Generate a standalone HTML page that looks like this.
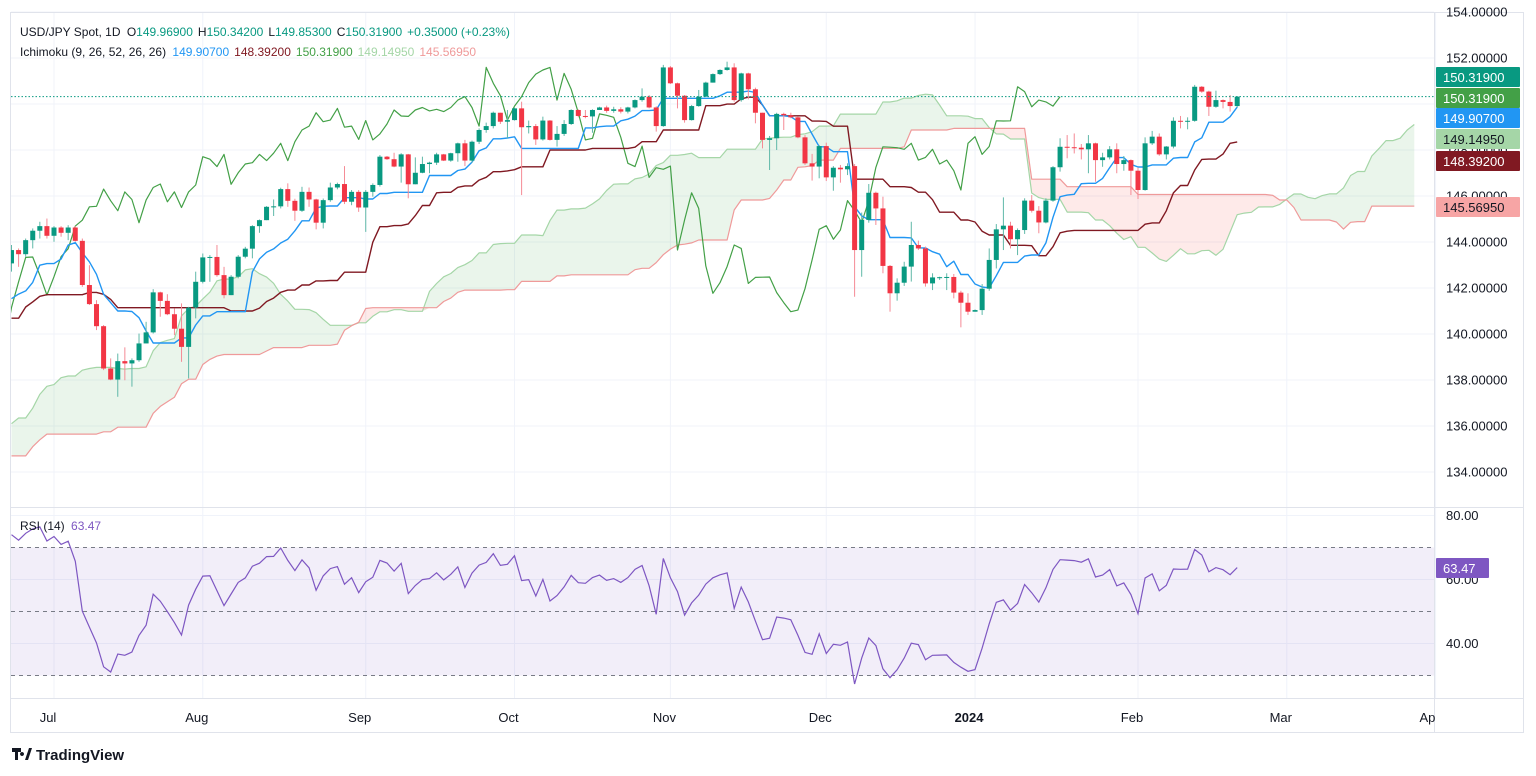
<!DOCTYPE html>
<html><head><meta charset="utf-8"><style>
html,body{margin:0;padding:0;background:#fff;}
svg{display:block;font-family:"Liberation Sans",sans-serif;}
</style></head><body>
<svg id="chart" width="1536" height="776" viewBox="0 0 1536 776" xmlns="http://www.w3.org/2000/svg">
<defs>
<clipPath id="mainClip"><rect x="11" y="13" width="1423" height="494"/></clipPath>
<clipPath id="rsiClip"><rect x="11" y="508" width="1423" height="190"/></clipPath>
</defs>
<rect x="0" y="0" width="1536" height="776" fill="#fff"/>
<g id="grid"></g>
<g id="cloud" clip-path="url(#mainClip)"></g>
<g id="lines" clip-path="url(#mainClip)"></g>
<g id="candles" clip-path="url(#mainClip)"></g>
<g id="rsi" clip-path="url(#rsiClip)"></g>
<g id="frame">
<line x1="10.5" y1="12" x2="10.5" y2="733" stroke="#e0e3eb"/>
<line x1="10" y1="12.5" x2="1524" y2="12.5" stroke="#e0e3eb"/>
<line x1="1523.5" y1="12" x2="1523.5" y2="733" stroke="#e0e3eb"/>
<line x1="10" y1="732.5" x2="1524" y2="732.5" stroke="#e0e3eb"/>
<line x1="1434.5" y1="12" x2="1434.5" y2="733" stroke="#e0e3eb"/>
<line x1="10" y1="507.5" x2="1524" y2="507.5" stroke="#e0e3eb"/>
<line x1="10" y1="698.5" x2="1524" y2="698.5" stroke="#e0e3eb"/>
</g>
<g id="axes"></g>
<g id="header">
<text x="20" y="36" font-size="12" fill="#131722">USD/JPY Spot, 1D <tspan dx="3">O</tspan><tspan fill="#089981">149.96900</tspan><tspan dx="5">H</tspan><tspan fill="#089981">150.34200</tspan><tspan dx="5">L</tspan><tspan fill="#089981">149.85300</tspan><tspan dx="5">C</tspan><tspan fill="#089981">150.31900</tspan><tspan dx="5" fill="#089981">+0.35000 (+0.23%)</tspan></text>
<text x="20" y="56" font-size="12" fill="#131722">Ichimoku (9, 26, 52, 26, 26) <tspan dx="3" fill="#2196F3">149.90700</tspan><tspan dx="5" fill="#801922">148.39200</tspan><tspan dx="5" fill="#43A047">150.31900</tspan><tspan dx="5" fill="#A5D6A7">149.14950</tspan><tspan dx="5" fill="#EF9A9A">145.56950</tspan></text>
<text x="20" y="530" font-size="12" fill="#131722">RSI (14) <tspan dx="3" fill="#7E57C2">63.47</tspan></text>
</g>
<g id="logo">
<path d="M12 748h9v4h-3v8h-3v-8h-3z M22 752a2 2 0 1 0 0.01 0z M25 760l4-12h3l-4 12z" fill="#131722"/>
<text x="36" y="760" font-size="15" font-weight="bold" fill="#131722">TradingView</text>
</g>
</svg>
<script>
// ---- data: bar index -6 (Jun 23 2023) .. 167 (Feb 21 2024)
const preCloses=[136.2,136.7,135.9,135.9,137.2,137.3,136.1,135.0,133.2,134.2,
133.4,133.7,131.8,131.3,132.5,131.4,130.8,130.7,131.5,130.9,
132.9,132.7,132.8,132.4,131.7,131.3,131.8,132.2,133.6,133.7,
133.1,132.6,133.8,134.5,134.1,134.7,134.2,134.1,134.3,133.7,
133.6,133.9,136.3,137.5,136.5,134.7,134.2,134.8,135.1,135.2,
134.4,134.5,135.7,136.1,136.4,137.6,138.7,137.9,138.6,138.6,
139.5,140.1,140.6,140.4,139.8,139.3,138.8,139.9,139.6,139.6,
140.1,139.0,139.4,139.6,140.2,140.0,140.3,141.8,141.9,141.5,
141.9,143.07];
const closes=[143.65,143.47,144.08,144.49,144.69,144.27,
144.63,144.40,144.63,144.05,142.13,141.30,140.34,138.50,138.02,138.82,
138.72,138.86,139.59,140.07,141.81,141.44,140.86,140.23,139.44,141.15,
142.27,143.33,143.35,142.56,141.69,142.49,143.36,143.71,144.69,144.95,
145.53,145.55,146.30,145.79,145.36,146.18,145.85,144.84,145.82,146.37,
146.52,145.75,146.18,145.50,146.18,146.48,147.71,147.60,147.28,147.81,
146.51,147.01,147.39,147.45,147.81,147.54,147.86,148.29,147.54,148.36,
148.87,149.04,149.62,149.23,149.30,149.81,148.99,149.04,148.46,149.28,
148.44,148.70,149.13,149.74,149.48,149.46,149.74,149.85,149.70,149.77,
149.67,149.85,150.17,150.32,149.85,149.04,151.59,150.90,150.36,149.30,
149.91,150.32,150.93,151.30,151.48,151.59,150.17,151.33,150.64,149.62,
148.44,148.51,149.57,149.51,149.42,148.55,147.42,147.28,148.17,146.81,
147.23,147.16,147.30,143.65,144.96,146.14,145.46,142.96,141.77,142.23,
142.93,143.87,143.72,142.20,142.46,142.47,142.48,141.80,141.36,140.97,
141.04,141.97,143.22,144.55,144.71,144.12,144.52,145.80,145.36,144.85,
145.80,147.25,148.14,148.12,148.10,148.03,148.29,147.56,147.68,148.03,
147.39,147.56,147.10,146.26,148.29,148.58,147.81,148.15,149.27,149.26,
149.27,150.75,150.54,149.88,150.17,150.09,149.91,150.32];
const highs=[143.87,143.72,144.15,144.59,144.88,145.02,
144.69,144.69,144.73,144.69,144.15,142.99,141.47,140.39,138.94,139.15,
139.42,138.94,140.02,140.53,141.95,141.84,141.73,141.11,141.33,141.18,
142.71,143.50,143.43,143.87,142.92,142.56,143.43,143.79,144.73,144.98,
145.56,145.85,146.36,146.55,145.88,146.40,146.37,145.88,145.89,146.58,
146.58,147.30,146.26,146.26,146.26,146.55,147.78,147.74,147.88,147.86,
147.83,147.68,147.71,147.49,147.88,147.83,147.88,148.32,148.44,148.41,
148.94,149.19,149.67,149.62,149.74,149.85,150.10,149.28,149.13,149.45,
149.30,149.04,149.30,149.77,149.77,149.74,149.77,149.88,149.93,149.88,
149.86,149.88,150.20,150.68,150.39,149.90,151.70,151.65,150.93,150.39,
149.96,150.61,150.97,151.33,151.51,151.84,151.77,151.36,151.36,150.71,
149.62,148.61,149.62,149.62,149.62,149.45,148.65,147.83,148.22,148.32,
147.30,147.35,147.42,147.39,145.28,146.52,146.19,145.97,143.00,142.42,
143.14,144.88,144.06,143.80,142.64,142.49,142.64,142.61,141.88,141.77,
141.07,142.17,143.72,144.78,145.94,144.88,144.59,145.90,146.04,145.56,
145.90,147.30,148.51,148.65,148.72,148.26,148.65,148.32,147.88,148.17,
148.29,147.74,147.59,147.23,148.55,148.83,148.72,148.17,149.42,149.48,
149.42,150.83,150.78,150.58,150.58,150.20,150.39,150.34];
const lows=[142.71,142.92,143.36,143.72,144.15,144.15,
144.01,144.23,144.08,144.01,142.05,141.26,140.17,138.43,137.99,137.27,
137.99,137.71,138.79,139.59,140.02,140.75,140.82,139.95,138.79,138.07,
140.68,142.20,142.27,142.49,141.55,141.69,142.42,143.29,143.29,144.40,
144.95,145.13,145.46,145.53,144.92,145.31,145.53,144.55,144.59,145.75,
146.29,145.65,145.60,145.31,144.44,145.97,146.41,147.57,147.25,146.58,
145.90,146.51,146.99,146.99,147.35,147.52,147.49,147.49,147.30,147.45,
148.26,148.75,148.94,149.13,148.51,149.28,146.04,148.72,148.22,148.41,
148.41,148.15,148.61,149.09,149.42,149.38,148.75,149.74,149.62,149.62,
149.59,149.59,149.81,150.10,149.81,148.80,149.01,150.87,149.81,149.19,
149.28,149.88,150.32,150.93,151.26,151.45,150.10,150.10,150.20,149.16,
148.07,147.13,148.00,148.87,149.38,148.51,147.35,146.67,146.77,146.65,
146.23,146.58,146.91,141.62,142.49,144.84,144.74,142.64,140.97,141.45,
142.09,142.28,143.65,142.06,141.91,142.35,141.91,141.55,140.29,140.83,
141.01,140.83,141.88,142.85,143.65,143.72,143.43,144.35,145.28,144.38,
144.81,145.75,147.06,147.64,147.85,147.59,146.99,146.62,147.27,147.59,
146.99,147.10,146.04,145.87,146.23,148.22,147.75,147.59,148.07,148.94,
148.90,149.23,150.49,149.48,149.84,149.81,149.67,149.85];
const firstIndex=-6;
const priceTicks=[134,136,138,140,142,144,146,148,150,152,154];
const rsiTicks=[80,60,40];
const monthLabels=["Jul","Aug","Sep","Oct","Nov","Dec","2024","Feb","Mar","Apr"];
const monthBars=[0,21,44,65,87,109,130,153,174,195];
const lastRsiText="63.47";

const NS="http://www.w3.org/2000/svg";
function mk(tag,attrs,parent){const e=document.createElementNS(NS,tag);for(const k in attrs)e.setAttribute(k,attrs[k]);parent.appendChild(e);return e;}
const X=i=>54+7.085*i;
const Y=p=>334-(p-140)*23;
const YR=v=>643.5-(v-40)*3.2;

const P=preCloses.length;
const allC=preCloses.concat(closes);
const allO=allC.map((c,k)=>k===0?c:allC[k-1]);
const allH=[],allL=[];
for(let k=0;k<allC.length;k++){
  if(k<P){allH.push(Math.max(allO[k],allC[k])+0.4);allL.push(Math.min(allO[k],allC[k])-0.4);}
  else{allH.push(Math.max(highs[k-P],allO[k],allC[k]));allL.push(Math.min(lows[k-P],allO[k],allC[k]));}
}
const barOf=k=>k-P+firstIndex;
function mid(k,n){let h=-1e9,l=1e9;for(let j=Math.max(0,k-n+1);j<=k;j++){h=Math.max(h,allH[j]);l=Math.min(l,allL[j]);}return (h+l)/2;}

const grid=document.getElementById('grid');
priceTicks.forEach(p=>{const g=mk('line',{x1:11,x2:1434,y1:Y(p),y2:Y(p),stroke:'#f0f3fa'},grid);

});
rsiTicks.forEach(v=>{const g=mk('line',{x1:11,x2:1434,y1:YR(v),y2:YR(v),stroke:'#f0f3fa'},grid);

});
monthBars.forEach(b=>{const g=mk('line',{x1:X(b),x2:X(b),y1:13,y2:698,stroke:'#f0f3fa'},grid);

});

const tenkan=[],kijun=[],spanA=[],spanB=[],chikou=[];
for(let k=0;k<allC.length;k++){
  const i=barOf(k);
  const t=mid(k,9),kj=mid(k,26);
  if(i>=firstIndex){tenkan.push([i,t]);kijun.push([i,kj]);}
  const j=i+25;
  if(j>=firstIndex){spanA.push([j,(t+kj)/2]);spanB.push([j,mid(k,52)]);}
  const c=i-25;
  if(c>=firstIndex-1 && i>=firstIndex) chikou.push([c,allC[k]]);
}
const cloud=document.getElementById('cloud');
const pt=p=>X(p[0]).toFixed(1)+','+Y(p[1]).toFixed(1);
const minAB=spanA.map((a,n)=>[a[0],Math.min(a[1],spanB[n][1])]);
const gPts=spanA.map(pt).concat(minAB.slice().reverse().map(pt)).join(' ');
const rPts=spanB.map(pt).concat(minAB.slice().reverse().map(pt)).join(' ');
const gc=mk('polygon',{points:gPts,fill:'rgba(67,160,71,0.11)'},cloud);


const rc=mk('polygon',{points:rPts,fill:'rgba(244,67,54,0.11)'},cloud);



const lines=document.getElementById('lines');
function poly(arr,color,name,w){const pl=mk('polyline',{points:arr.map(pt).join(' '),fill:'none',stroke:color,'stroke-width':w||1.3,'stroke-linejoin':'round'},lines);

}
poly(spanA,'#A5D6A7','leading-span-a',1.2);
poly(spanB,'#EF9A9A','leading-span-b',1.2);
poly(chikou,'#43A047','lagging-span',1.2);
poly(kijun,'#801922','base-line',1.4);
poly(tenkan,'#2196F3','conversion-line',1.4);

const cg=document.getElementById('candles');
for(let k=P;k<allC.length;k++){
  const i=barOf(k),o=allO[k],c=allC[k],up=c>=o,col=up?'#089981':'#F23645';
  const g=mk('g',{},cg);
  
  
  const x=X(i);
  mk('line',{x1:x,x2:x,y1:Y(allH[k]),y2:Y(allL[k]),stroke:up?'#5fb8a8':'#f58a95','stroke-width':1},g);
  const y1=Y(Math.max(o,c)),y2=Y(Math.min(o,c));
  mk('rect',{x:x-2.5,y:y1,width:5,height:Math.max(1,y2-y1),fill:col},g);
}
const lp=mk('line',{x1:11,x2:1434,y1:Y(closes[closes.length-1]),y2:Y(closes[closes.length-1]),stroke:'#089981','stroke-dasharray':'1.5,2','stroke-width':1},cg);



const rg=document.getElementById('rsi');
const band=mk('rect',{x:11,y:YR(70),width:1423,height:YR(30)-YR(70),fill:'rgba(126,87,194,0.1)'},rg);


[70,50,30].forEach(v=>{const l=mk('line',{x1:11,x2:1434,y1:YR(v),y2:YR(v),stroke:'#787b86','stroke-dasharray':'4,4','stroke-width':1},rg);

});
let ag=0,al=0;const rsiPts=[];
for(let k=1;k<allC.length;k++){
  const d=allC[k]-allC[k-1],g=Math.max(d,0),l=Math.max(-d,0);
  if(k<=14){ag+=g/14;al+=l/14;}else{ag=(ag*13+g)/14;al=(al*13+l)/14;}
  if(k>=14&&barOf(k)>=firstIndex){const r=al===0?100:100-100/(1+ag/al);rsiPts.push([barOf(k),r]);}
}
const rl=mk('polyline',{points:rsiPts.map(p=>X(p[0]).toFixed(1)+','+YR(p[1]).toFixed(1)).join(' '),fill:'none',stroke:'#7E57C2','stroke-width':1.2},rg);



const ax=document.getElementById('axes');
priceTicks.forEach(p=>{const t=mk('text',{x:1446,y:Y(p)+4.5,'font-size':13,fill:'#131722'},ax);t.textContent=p.toFixed(5);

});
rsiTicks.forEach(v=>{const t=mk('text',{x:1446,y:YR(v)+4.5,'font-size':13,fill:'#131722'},ax);t.textContent=v.toFixed(2);

});
monthLabels.forEach((m,n)=>{const x=X(monthBars[n])-6;if(x>1432)return;
const t=mk('text',{x:x,y:722,'font-size':13,fill:'#131722','text-anchor':'middle','font-weight':m==='2024'?'bold':'normal'},ax);t.textContent=m;

});
const boxes=[[67,'#089981','#fff','150.31900','last-price-label'],[88,'#43A047','#fff','150.31900','lagging-span-label'],[108,'#2196F3','#fff','149.90700','conversion-line-label'],[129,'#A5D6A7','#131722','149.14950','span-a-label'],[151,'#801922','#fff','148.39200','base-line-label'],[197,'#F7A5A5','#131722','145.56950','span-b-label']];
boxes.forEach(b=>{const g=mk('g',{},ax);


mk('rect',{x:1436,y:b[0],width:84,height:20,fill:b[1],rx:1},g);
const t=mk('text',{x:1443,y:b[0]+15,'font-size':13,fill:b[2]},g);t.textContent=b[3];});
const rb=mk('g',{},ax);


mk('rect',{x:1436,y:558,width:53,height:20,fill:'#7E57C2',rx:1},rb);
const rt=mk('text',{x:1443,y:573,'font-size':13,fill:'#fff'},rb);rt.textContent=lastRsiText;
mk('rect',{x:1435,y:699,width:88,height:33,fill:'#fff'},ax);
</script>
</body></html>
